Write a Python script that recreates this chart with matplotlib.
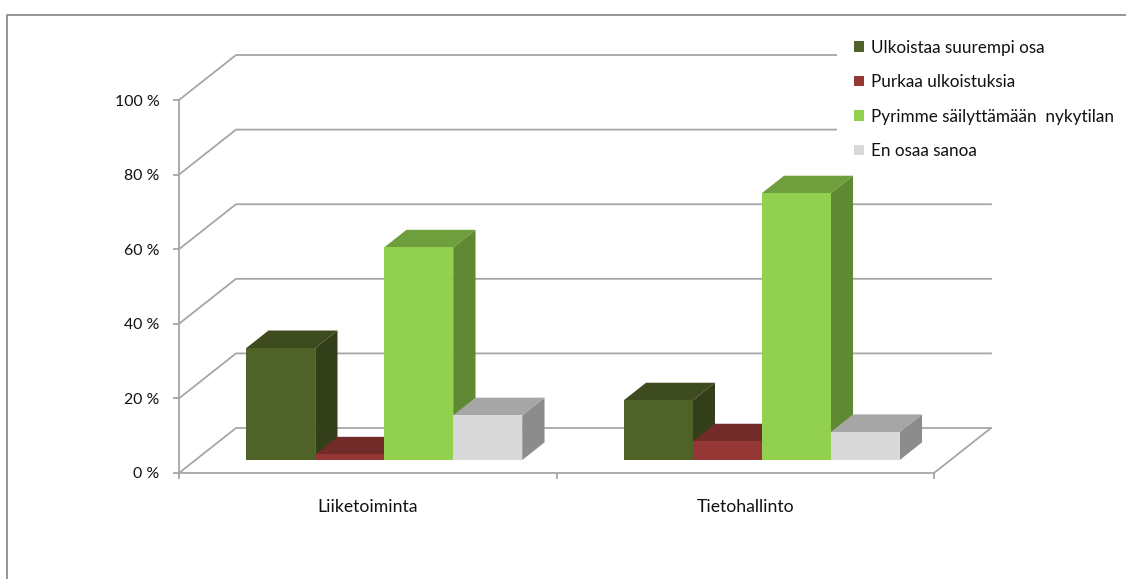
"""
Kaksi kategoriaa, neljä sarjaa: pylväskaavio vinoprojektiolla.
"""

import matplotlib
matplotlib.use("Agg")
import matplotlib.pyplot as plt
from matplotlib.lines import Line2D
from matplotlib.patches import Patch, Polygon

categories = ["Liiketoiminta", "Tietohallinto"]
series_names = [
    "Ulkoistaa suurempi osa",
    "Purkaa ulkoistuksia",
    "Pyrimme säilyttämään  nykytilan",
    "En osaa sanoa",
]
ulkoistaa = [30, 16]
purkaa = [1.5, 5]
pyrimme = [57, 71.5]
en_osaa = [12, 7.5]
y_ticks = [0, 20, 40, 60, 80, 100]

front_colors = ["#4F6228", "#953735", "#92D050", "#D9D9D9"]
top_colors = ["#3D4B1F", "#722B29", "#6F9E3D", "#A6A6A6"]
side_colors = ["#333F18", "#632523", "#5F8A33", "#8C8C8C"]

GRID = "#A6A6A6"
LW = 1.3
LEGEND_FONT = 12.3

# oblique offset of the full floor depth, in data units
WALL_DX = 0.151
WALL_DY = 12.06
BAR_WIDTH = 0.1828
BAR_NEAR = 0.289
BAR_FAR = 0.68


def project(x, v, d):
    return x + d * WALL_DX, v + d * WALL_DY


def draw_bar(ax, x0, value, i):
    x1 = x0 + BAR_WIDTH
    front = [project(x0, 0, BAR_NEAR), project(x1, 0, BAR_NEAR),
             project(x1, value, BAR_NEAR), project(x0, value, BAR_NEAR)]
    top = [project(x0, value, BAR_NEAR), project(x1, value, BAR_NEAR),
           project(x1, value, BAR_FAR), project(x0, value, BAR_FAR)]
    side = [project(x1, 0, BAR_NEAR), project(x1, 0, BAR_FAR),
            project(x1, value, BAR_FAR), project(x1, value, BAR_NEAR)]
    for pts, color in ((side, side_colors[i]), (top, top_colors[i]), (front, front_colors[i])):
        ax.add_patch(Polygon(pts, closed=True, facecolor=color, edgecolor="none",
                             clip_on=False, zorder=3))


fig = plt.figure(figsize=(11.26, 5.79), dpi=100)
plt.rcParams["font.family"] = ["Lato", "DejaVu Sans"]
ax = fig.add_axes([179 / 1126, 106 / 579, 755 / 1126, 373 / 579])
ax.set_xlim(0, 2)
ax.set_ylim(0, 100)

# walls and floor
for v in y_ticks:
    bx, by = project(0, v, 1)
    ex, _ = project(2, v, 1)
    ax.plot([0, bx, ex], [v, by, by], color=GRID, lw=LW, clip_on=False, zorder=1)
ax.plot([2, project(2, 0, 1)[0]], [0, project(2, 0, 1)[1]], color=GRID, lw=LW,
        clip_on=False, zorder=1)

all_series = [ulkoistaa, purkaa, pyrimme, en_osaa]
for c in range(len(categories)):
    for i, values in enumerate(all_series):
        draw_bar(ax, c + 0.5 + (i - 2) * BAR_WIDTH, values[c], i)

for name in ("top", "right"):
    ax.spines[name].set_visible(False)
for name in ("left", "bottom"):
    ax.spines[name].set_color(GRID)
    ax.spines[name].set_linewidth(LW)

ax.set_yticks(y_ticks)
ax.set_yticklabels([f"{v} %" for v in y_ticks], fontsize=11.4, color="#111111")
ax.tick_params(axis="y", length=4, width=LW, color=GRID, pad=10)
ax.set_xticks([0, 1, 2])
ax.set_xticklabels([])
ax.tick_params(axis="x", which="major", length=4.5, width=LW, color=GRID)
ax.set_xticks([0.5, 1.5], minor=True)
ax.set_xticklabels(categories, minor=True, fontsize=12.7, color="#111111")
ax.tick_params(axis="x", which="minor", length=0, pad=19)

handles = [Patch(facecolor=c, edgecolor="none") for c in front_colors]
leg = ax.legend(handles, series_names, loc="upper left",
                bbox_to_anchor=(844 / 1126, 1 - 29.5 / 579),
                bbox_transform=fig.transFigure, frameon=True, fontsize=LEGEND_FONT,
                handlelength=0.58, handleheight=0.58, handletextpad=0.38,
                labelspacing=1.08, borderaxespad=0, borderpad=0.6, labelcolor="#111111")
leg.get_frame().set_facecolor("white")
leg.get_frame().set_edgecolor("none")
leg.get_frame().set_alpha(1)
leg.get_frame().set_boxstyle("square", pad=0.4)
leg.set_zorder(2)

# chart frame, running off the right and bottom edges
fig.add_artist(Line2D([6.5 / 1126, 6.5 / 1126, 1], [0, 1 - 14.5 / 579, 1 - 14.5 / 579],
                      color="#8C8C8C", lw=LW))

fig.savefig("out.png", dpi=100)
plt.close(fig)
